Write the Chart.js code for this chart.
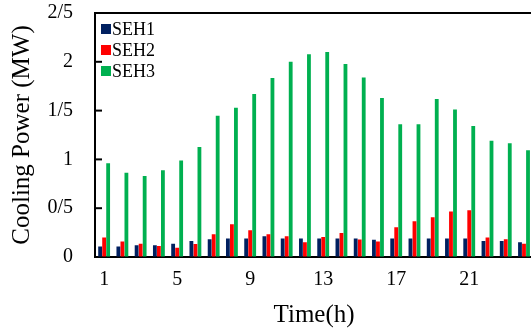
<!DOCTYPE html>
<html>
<head>
<meta charset="utf-8">
<script src="https://cdn.jsdelivr.net/npm/chart.js@4.4.1/dist/chart.umd.min.js"></script>
<style>
    html, body { margin: 0; padding: 0; background: #fff; overflow: hidden; }
    #wrap { width: 535px; height: 333px; position: relative; }
</style>
</head>
<body>
<div id="wrap"><canvas id="coolingChart"></canvas></div>
<script>
// Hourly cooling power per SEH (MW)
const hours = ['1','2','3','4','5','6','7','8','9','10','11','12','13','14','15','16','17','18','19','20','21','22','23','24'];
const seh1 = [0.107, 0.107, 0.12, 0.12, 0.137, 0.164, 0.181, 0.19, 0.19, 0.212, 0.19, 0.19, 0.19, 0.19, 0.19, 0.178, 0.19, 0.19, 0.19, 0.19, 0.19, 0.164, 0.164, 0.15];
const seh2 = [0.2, 0.158, 0.137, 0.113, 0.096, 0.133, 0.233, 0.335, 0.273, 0.233, 0.212, 0.15, 0.205, 0.246, 0.18, 0.16, 0.304, 0.366, 0.407, 0.465, 0.48, 0.2, 0.181, 0.137];
const seh3 = [0.96, 0.864, 0.83, 0.89, 0.99, 1.127, 1.448, 1.53, 1.67, 1.834, 2.0, 2.077, 2.1, 1.977, 1.84, 1.63, 1.36, 1.36, 1.62, 1.51, 1.342, 1.19, 1.165, 1.093];
const yTickLabels = ['0', '0/5', '1', '1/5', '2', '2/5'];

const serif = "'Liberation Serif', 'Times New Roman', serif";

// top frame line, inward y ticks and the legend inside the plot
const framePlugin = {
    id: 'frame',
    afterDraw(chart) {
        const ctx = chart.ctx;
        const area = chart.chartArea;
        const y = chart.scales.y;
        ctx.save();
        ctx.strokeStyle = '#000';
        ctx.lineWidth = 2;
        ctx.beginPath();
        ctx.moveTo(area.left - 1, area.top);
        ctx.lineTo(chart.width, area.top);
        ctx.stroke();
        y.ticks.forEach(t => {
            if (t.value === 0) return;
            const py = y.getPixelForValue(t.value);
            ctx.beginPath();
            ctx.moveTo(area.left, py);
            ctx.lineTo(area.left + 7, py);
            ctx.stroke();
        });
        // legend
        ctx.font = '18px ' + serif;
        ctx.textBaseline = 'middle';
        ctx.textAlign = 'left';
        chart.data.datasets.forEach((ds, i) => {
            const cy = area.top + 16 + i * 21;
            ctx.fillStyle = ds.backgroundColor;
            ctx.fillRect(area.left + 6, cy - 5, 10, 10);
            ctx.fillStyle = '#000';
            ctx.fillText(ds.label, area.left + 17, cy + 1);
        });
        ctx.restore();
    }
};

const ctx = document.getElementById('coolingChart').getContext('2d');
const coolingChart = new Chart(ctx, {
    type: 'bar',
    data: {
        labels: hours,
        datasets: [
            { label: 'SEH1', data: seh1, backgroundColor: '#002060' },
            { label: 'SEH2', data: seh2, backgroundColor: '#ff0000' },
            { label: 'SEH3', data: seh3, backgroundColor: '#00b050' }
        ]
    },
    options: {
        responsive: true,
        maintainAspectRatio: false,
        animation: false,
        layout: { padding: 0 },
        datasets: {
            bar: { categoryPercentage: 0.66, barPercentage: 0.95 }
        },
        plugins: {
            legend: { display: false },
            tooltip: { enabled: false }
        },
        scales: {
            x: {
                grid: { display: false, drawTicks: false },
                border: { color: '#000', width: 2 },
                ticks: {
                    autoSkip: false,
                    maxRotation: 0,
                    padding: 11,
                    color: '#000',
                    font: { family: serif, size: 20 },
                    callback: function(value, index) {
                        return index % 4 === 0 ? hours[index] : '';
                    }
                },
                title: {
                    display: true,
                    text: 'Time(h)',
                    color: '#000',
                    font: { family: serif, size: 25 },
                    padding: { top: 0, bottom: 3 }
                },
                afterFit: function(scale) { scale.height = 76; }
            },
            y: {
                min: 0,
                max: 2.5,
                // invisible tick marks push the labels away from the axis
                grid: { display: true, drawOnChartArea: false, drawTicks: true, tickLength: 21, tickColor: 'rgba(0,0,0,0)' },
                border: { color: '#000', width: 2 },
                ticks: {
                    stepSize: 0.5,
                    padding: 1,
                    color: '#000',
                    font: { family: serif, size: 20 },
                    callback: function(value, index) {
                        return yTickLabels[index];
                    }
                },
                title: {
                    display: true,
                    text: 'Cooling Power (MW)',
                    color: '#000',
                    font: { family: serif, size: 25 },
                    padding: { top: 7, bottom: 0 }
                },
                afterFit: function(scale) { scale.width = 95; }
            }
        }
    },
    plugins: [framePlugin]
});
</script>
</body>
</html>
